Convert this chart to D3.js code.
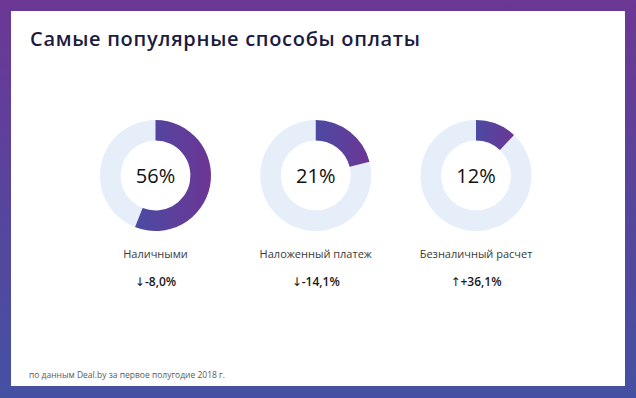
<!DOCTYPE html>
<html><head><meta charset="utf-8">
<script src="https://cdn.jsdelivr.net/npm/d3@7"></script>
<style>html,body{margin:0;padding:0;background:#fff;}svg{display:block;}</style>
</head><body>
<svg id="chart" width="636" height="398"></svg>
<script>
const title = "Самые популярные способы оплаты";
const categories = ["Наличными", "Наложенный платеж", "Безналичный расчет"];
const shares = [56, 21, 12];
const changes = ["-8,0%", "-14,1%", "+36,1%"];
const directions = ["down", "down", "up"];
const footnote = "по данным Deal.by за первое полугодие 2018 г.";

const W = 636, H = 398;
const svg = d3.select("#chart");
const defs = svg.append("defs");

const bg = defs.append("linearGradient").attr("id","bg").attr("x1",0).attr("y1",0).attr("x2",0).attr("y2",1);
bg.append("stop").attr("offset","0%").attr("stop-color","#6c3795");
bg.append("stop").attr("offset","100%").attr("stop-color","#4451a3");

const ag = defs.append("linearGradient").attr("id","arcg").attr("x1",0).attr("y1",0).attr("x2",1).attr("y2",0);
ag.append("stop").attr("offset","0%").attr("stop-color","#4b4aa2");
ag.append("stop").attr("offset","100%").attr("stop-color","#6c3695");

svg.append("rect").attr("width",W).attr("height",H).attr("fill","url(#bg)");
svg.append("rect").attr("x",11).attr("y",11).attr("width",614).attr("height",375).attr("fill","#fff");

svg.append("text").attr("x",30).attr("y",46)
  .attr("font-family","'Open Sans', sans-serif").attr("font-weight",600)
  .attr("font-size",20).attr("letter-spacing",0.7).attr("fill","#1c1b40").text(title);

const x = d3.scalePoint().domain(categories).range([155.5, 476]);
const angle = d3.scaleLinear().domain([0,100]).range([0, 2*Math.PI]);
const arc = d3.arc().innerRadius(35).outerRadius(55.5);
const cy = 175.5;

const g = svg.selectAll("g.donut").data(categories).join("g")
  .attr("class","donut").attr("transform", d => `translate(${x(d)},${cy})`);

g.append("path").attr("d", arc({startAngle:0, endAngle:2*Math.PI})).attr("fill","#e6eef9");
g.append("path").attr("d", (d,i) => arc({startAngle:0, endAngle:angle(shares[i])})).attr("fill","url(#arcg)");

g.append("text").attr("text-anchor","middle").attr("y",7)
  .attr("font-family","'Open Sans', sans-serif").attr("font-size",20).attr("fill","#111")
  .text((d,i) => shares[i] + "%");

g.append("text").attr("text-anchor","middle").attr("y",258.3-cy)
  .attr("font-family","'Open Sans', sans-serif").attr("font-size",11).attr("fill","#3a3a3a")
  .text(d => d);

const ch = g.append("text").attr("text-anchor","middle").attr("y",285.7-cy)
  .attr("font-family","'Open Sans', sans-serif").attr("font-weight",600).attr("font-size",12).attr("fill","#1a1a1a");
ch.append("tspan").attr("font-family","'DejaVu Sans', sans-serif").attr("font-weight",400).attr("font-size",12)
  .text((d,i) => directions[i]==="up" ? "↑" : "↓");
ch.append("tspan").text((d,i) => changes[i]);

svg.append("text").attr("x",29).attr("y",378)
  .attr("font-family","'Open Sans', sans-serif").attr("font-size",8.5).attr("fill","#5a5a5a")
  .text(footnote);
</script>
</body></html>
